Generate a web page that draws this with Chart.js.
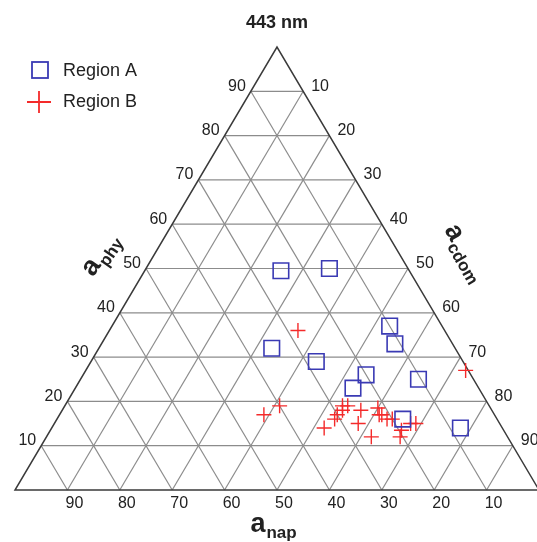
<!DOCTYPE html>
<html>
<head>
<meta charset="utf-8">
<script src="https://cdn.jsdelivr.net/npm/chart.js@4.4.0/dist/chart.umd.min.js"></script>
<style>
  body { margin: 0; background: #fff; }
  #wrap { width: 537px; height: 542px; }
</style>
</head>
<body>
<div id="wrap"><canvas id="tern"></canvas></div>
<script>
// ternary values in percent (phy + cdom + nap = 100)
const regionA_phy  = [49.5, 50, 37, 33, 32, 29, 26, 23, 25, 16, 14]
const regionA_cdom = [26, 35, 53, 56, 33, 43, 54, 53, 64.5, 66, 78]
const regionA_nap  = [24.5, 15, 10, 11, 35, 28, 20, 24, 10.5, 18, 8]

const regionB_phy  = [36, 27, 17, 19, 14, 16, 17, 18, 19, 19, 18, 15, 12, 18.5, 17, 17, 16, 16, 12, 13.5, 15, 15]
const regionB_cdom = [36, 72.5, 39, 41, 52, 53, 53, 53.5, 53, 54, 57, 58, 62, 60, 61, 61.5, 63, 64, 67.5, 67, 68, 69]
const regionB_nap  = [28, 0.5, 44, 40, 34, 31, 30, 28.5, 28, 27, 25, 27, 26, 21.5, 22, 21.5, 21, 20, 20.5, 19.5, 17, 16]

const tickValues = [10, 20, 30, 40, 50, 60, 70, 80, 90]
const tickLabels = ["10", "20", "30", "40", "50", "60", "70", "80", "90"]
const seriesNames = ["Region A", "Region B"]

// ternary -> cartesian (phy at top, cdom bottom right, nap bottom left)
function toXY(phy, cdom, nap) {
    const s = phy + cdom + nap
    const p = phy / s * 100, c = cdom / s * 100
    return { x: c + p / 2, y: p }
}

const pointsA = regionA_phy.map((p, i) => toXY(p, regionA_cdom[i], regionA_nap[i]))
const pointsB = regionB_phy.map((p, i) => toXY(p, regionB_cdom[i], regionB_nap[i]))

const FONT = "'Liberation Sans', Arial, sans-serif"
const BLUE = "#3a3ab4"
const RED = "#f42a2a"

const ternaryGrid = {
    id: "ternaryGrid",
    beforeDatasetsDraw(chart) {
        const ctx = chart.ctx
        const xs = chart.scales.x, ys = chart.scales.y
        const px = v => xs.getPixelForValue(v)
        const py = v => ys.getPixelForValue(v)
        const line = (x1, y1, x2, y2) => {
            ctx.beginPath()
            ctx.moveTo(px(x1), py(y1))
            ctx.lineTo(px(x2), py(y2))
            ctx.stroke()
        }
        ctx.save()
        ctx.strokeStyle = "#8c8c8c"
        ctx.lineWidth = 1.2
        tickValues.forEach(v => {
            line(v / 2, v, 100 - v / 2, v)                // phy = v
            line(v, 0, v + (100 - v) / 2, 100 - v)         // cdom = v
            line(100 - v, 0, (100 - v) / 2, 100 - v)       // nap = v
        })
        ctx.strokeStyle = "#3a3a3a"
        ctx.lineWidth = 1.5
        ctx.beginPath()
        ctx.moveTo(px(0), py(0))
        ctx.lineTo(px(100), py(0))
        ctx.lineTo(px(50), py(100))
        ctx.closePath()
        ctx.stroke()

        // tick labels
        ctx.fillStyle = "#222"
        ctx.font = "16px " + FONT
        ctx.textBaseline = "middle"
        tickValues.forEach((v, i) => {
            ctx.textAlign = "right"
            ctx.fillText(tickLabels[i], px(v / 2) - 5, py(v) - 5)
            ctx.textAlign = "left"
            ctx.fillText(tickLabels[i], px(v + (100 - v) / 2) + 8, py(100 - v) - 5)
            ctx.textAlign = "center"
            ctx.fillText(tickLabels[i], px(100 - v) + 7, py(0) + 14)
        })

        // titles
        ctx.font = "bold 18px " + FONT
        ctx.textAlign = "center"
        ctx.fillText("443 nm", 277, 23)

        const axisTitle = (x, y, angle, sub) => {
            ctx.save()
            ctx.translate(x, y)
            ctx.rotate(angle)
            ctx.textAlign = "left"
            ctx.textBaseline = "alphabetic"
            ctx.font = "bold 27px " + FONT
            const w = ctx.measureText("a").width
            ctx.font = "bold 17px " + FONT
            const w2 = ctx.measureText(sub).width
            const x0 = -(w + w2) / 2
            ctx.font = "bold 27px " + FONT
            ctx.fillText("a", x0, 0)
            ctx.font = "bold 17px " + FONT
            ctx.fillText(sub, x0 + w + 1, 6)
            ctx.restore()
        }
        axisTitle(273, 532, 0, "nap")
        axisTitle(106, 259, -55 * Math.PI / 180, "phy")
        axisTitle(459, 256, 60 * Math.PI / 180, "cdom")

        // legend
        ctx.strokeStyle = BLUE
        ctx.lineWidth = 1.8
        ctx.strokeRect(32, 62, 16, 16)
        ctx.strokeStyle = RED
        ctx.beginPath()
        ctx.moveTo(27, 102); ctx.lineTo(51, 102)
        ctx.moveTo(39, 91); ctx.lineTo(39, 113)
        ctx.stroke()
        ctx.fillStyle = "#222"
        ctx.font = "18px " + FONT
        ctx.textAlign = "left"
        ctx.textBaseline = "middle"
        ctx.fillText(seriesNames[0], 63, 71)
        ctx.fillText(seriesNames[1], 63, 102)
        ctx.restore()
    }
}

new Chart(document.getElementById("tern"), {
    type: "scatter",
    data: {
        datasets: [
            {
                label: seriesNames[0],
                data: pointsA,
                pointStyle: "rect",
                pointRadius: 11,
                pointHoverRadius: 11,
                borderColor: BLUE,
                backgroundColor: "rgba(0,0,0,0)",
                borderWidth: 1.6,
                clip: false
            },
            {
                label: seriesNames[1],
                data: pointsB,
                pointStyle: "cross",
                pointRadius: 7.5,
                pointHoverRadius: 7.5,
                borderColor: RED,
                borderWidth: 1.4,
                clip: false
            }
        ]
    },
    options: {
        responsive: true,
        maintainAspectRatio: false,
        animation: false,
        layout: { autoPadding: false, padding: { left: 15, right: 0, top: 47, bottom: 52 } },
        scales: {
            x: { type: "linear", min: 0, max: 99.62, display: false },
            y: { type: "linear", min: 0, max: 100, display: false }
        },
        plugins: {
            legend: { display: false },
            tooltip: { enabled: false }
        }
    },
    plugins: [ternaryGrid]
})
</script>
</body>
</html>
